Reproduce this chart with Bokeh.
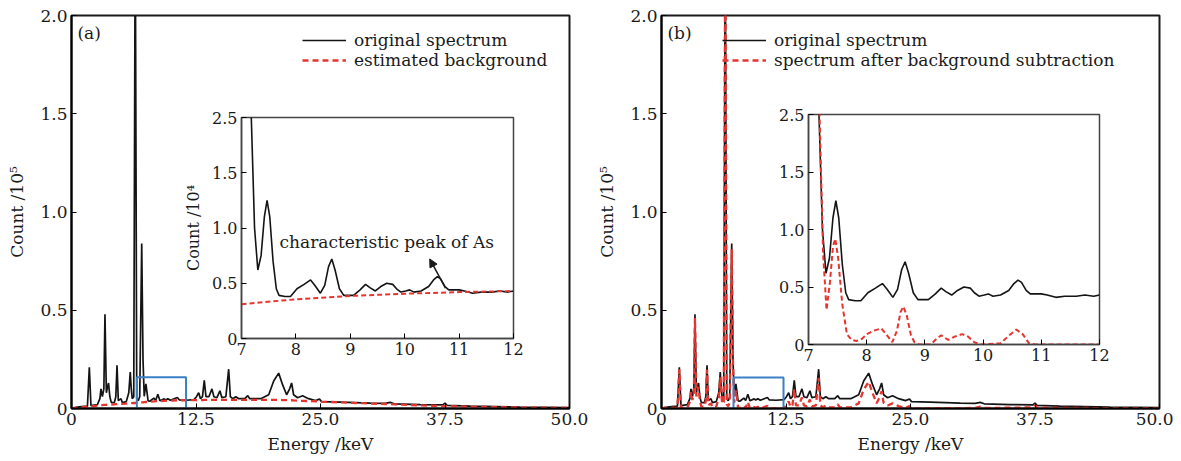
from bokeh.plotting import figure
from bokeh.models import (Legend, LegendItem, Label, Arrow, NormalHead,
                          FixedTicker)
from bokeh.layouts import row, column
from bokeh.embed import file_html
from bokeh.resources import INLINE

FONT = "DejaVu Serif"
RED = "#e8342e"
BLACK = "#141414"
BLUE = "#3a80c6"

# ---------------- main spectrum (Count / 10^5 vs Energy / keV) ----------------
energy = [0.0, 0.3, 1.0, 1.6, 1.79, 1.95, 2.6, 2.85, 2.96, 3.1, 3.25, 3.36, 3.5,
          3.62, 3.72, 3.85, 4.0, 4.3, 4.45, 4.57, 4.7, 4.97, 5.1, 5.5, 5.75, 5.9,
          6.0, 6.1, 6.25, 6.4, 6.55, 6.7, 6.85, 7.05, 7.18, 7.3, 7.47, 7.69, 7.9,
          8.27, 8.45, 8.67, 8.88, 9.3, 9.46, 9.67, 9.92, 10.63, 10.81, 11.5, 12.3,
          12.55, 12.77, 12.95, 13.15, 13.33, 13.5, 13.8, 14.1, 14.3, 14.6, 14.9,
          15.1, 15.5, 15.78, 15.95, 16.2, 16.5, 16.8, 17.4, 17.7, 17.9, 19.0, 19.8,
          20.3, 20.8, 21.2, 21.6, 21.9, 22.1, 22.3, 22.7, 23.2, 23.8, 24.5, 24.9,
          25.1, 27.0, 30.0, 31.5, 32.0, 32.4, 35.0, 37.3, 37.5, 37.7, 40.0, 45.0, 50.0]
original = [0.0, 0.005, 0.010, 0.012, 0.21, 0.015, 0.020, 0.05, 0.10, 0.06, 0.10, 0.48,
            0.08, 0.11, 0.13, 0.06, 0.03, 0.03, 0.06, 0.22, 0.04, 0.05, 0.03, 0.035,
            0.08, 0.185, 0.10, 0.05, 0.06, 2.5, 0.05, 0.04, 0.06, 0.84, 0.25, 0.062,
            0.125, 0.039, 0.038, 0.053, 0.041, 0.072, 0.039, 0.049, 0.043, 0.050,
            0.042, 0.056, 0.044, 0.042, 0.045, 0.06, 0.08, 0.05, 0.06, 0.143, 0.06,
            0.06, 0.10, 0.06, 0.055, 0.09, 0.055, 0.06, 0.20, 0.06, 0.05, 0.06, 0.05,
            0.05, 0.065, 0.05, 0.05, 0.07, 0.14, 0.18, 0.12, 0.07, 0.10, 0.13, 0.07,
            0.055, 0.065, 0.05, 0.04, 0.048, 0.035, 0.032, 0.027, 0.026, 0.031, 0.024,
            0.020, 0.018, 0.028, 0.016, 0.012, 0.007, 0.004]
background = [0.0, 0.002, 0.006, 0.009, 0.010, 0.011, 0.015, 0.016, 0.017, 0.017,
              0.018, 0.018, 0.019, 0.019, 0.020, 0.020, 0.020, 0.021, 0.022, 0.022,
              0.023, 0.024, 0.024, 0.025, 0.026, 0.026, 0.027, 0.027, 0.028, 0.028,
              0.029, 0.029, 0.030, 0.031, 0.031, 0.032, 0.033, 0.034, 0.035, 0.036,
              0.037, 0.038, 0.038, 0.039, 0.039, 0.040, 0.040, 0.042, 0.042, 0.042,
              0.043, 0.043, 0.043, 0.043, 0.043, 0.044, 0.044, 0.044, 0.044, 0.044,
              0.044, 0.044, 0.044, 0.044, 0.044, 0.044, 0.044, 0.044, 0.044, 0.044,
              0.044, 0.044, 0.044, 0.044, 0.044, 0.044, 0.043, 0.043, 0.042, 0.042,
              0.041, 0.040, 0.039, 0.038, 0.037, 0.036, 0.035, 0.031, 0.025, 0.023,
              0.022, 0.021, 0.016, 0.012, 0.012, 0.012, 0.009, 0.005, 0.003]
subtracted = [0.0, 0.003, 0.004, 0.003, 0.20, 0.004, 0.005, 0.034, 0.083, 0.043,
              0.082, 0.46, 0.061, 0.091, 0.11, 0.04, 0.01, 0.009, 0.038, 0.198,
              0.017, 0.026, 0.006, 0.01, 0.054, 0.159, 0.073, 0.023, 0.032, 2.47,
              0.021, 0.011, 0.03, 0.81, 0.22, 0.030, 0.092, 0.005, 0.003, 0.014,
              0.002, 0.034, 0.0, 0.008, 0.003, 0.009, 0.0, 0.013, 0.001, 0.0, 0.002,
              0.017, 0.037, 0.007, 0.017, 0.099, 0.016, 0.016, 0.056, 0.016, 0.011,
              0.046, 0.011, 0.016, 0.156, 0.016, 0.006, 0.016, 0.006, 0.006, 0.021,
              0.006, 0.006, 0.026, 0.096, 0.136, 0.077, 0.027, 0.058, 0.088, 0.029,
              0.015, 0.026, 0.012, 0.003, 0.012, 0.0, 0.001, 0.002, 0.003, 0.009,
              0.003, 0.004, 0.006, 0.016, 0.004, 0.003, 0.002, 0.001]

# ---------------- inset: 7-12 keV (Count / 10^4) ----------------
inset_energy = [7.15, 7.18, 7.24, 7.30, 7.36, 7.42, 7.47, 7.52, 7.58, 7.64, 7.69,
                7.80, 7.90, 8.02, 8.15, 8.27, 8.35, 8.45, 8.53, 8.60, 8.66, 8.72,
                8.80, 8.88, 9.06, 9.18, 9.28, 9.36, 9.46, 9.56, 9.67, 9.78, 9.85,
                9.93, 10.02, 10.09, 10.17, 10.30, 10.44, 10.53, 10.60, 10.66, 10.74,
                10.81, 11.00, 11.10, 11.25, 11.40, 11.60, 11.75, 11.90, 12.00]
inset_original = [3.0, 2.0, 1.0, 0.62, 0.75, 1.10, 1.25, 1.10, 0.70, 0.45, 0.39,
                  0.38, 0.38, 0.45, 0.49, 0.53, 0.48, 0.41, 0.48, 0.65, 0.72, 0.62,
                  0.45, 0.39, 0.39, 0.44, 0.49, 0.46, 0.43, 0.47, 0.50, 0.49, 0.45,
                  0.42, 0.43, 0.44, 0.42, 0.43, 0.47, 0.53, 0.56, 0.54, 0.47, 0.44,
                  0.44, 0.43, 0.41, 0.42, 0.42, 0.43, 0.42, 0.43]
inset_bg_energy = [7.0, 8.0, 9.0, 10.0, 11.0, 12.0]
inset_background = [0.31, 0.355, 0.385, 0.405, 0.42, 0.43]
inset_sub_energy = [7.15, 7.19, 7.25, 7.31, 7.37, 7.42, 7.46, 7.51, 7.58, 7.66, 7.74,
                    7.82, 7.92, 8.00, 8.12, 8.25, 8.35, 8.44, 8.52, 8.58, 8.63, 8.69,
                    8.76, 8.82, 8.90, 9.10, 9.20, 9.28, 9.40, 9.52, 9.64, 9.74, 9.85,
                    9.95, 10.30, 10.45, 10.57, 10.68, 10.79, 10.90, 12.00]
inset_subtracted = [3.0, 2.0, 0.80, 0.30, 0.55, 0.85, 0.92, 0.75, 0.35, 0.09, 0.04,
                    0.03, 0.05, 0.09, 0.12, 0.14, 0.08, 0.02, 0.12, 0.28, 0.33, 0.25,
                    0.08, 0.02, 0.0, 0.0, 0.05, 0.08, 0.04, 0.07, 0.09, 0.07, 0.02,
                    0.0, 0.01, 0.08, 0.13, 0.09, 0.01, 0.0, 0.0]

# zoom boxes drawn on the main panels [left, right, bottom, top]
zoom_box_a = [6.56, 11.5, -0.01, 0.159]
zoom_box_b = [7.23, 12.25, -0.013, 0.158]

# annotation (inset a)
note_text = "characteristic peak of As"
note_pos = (7.70, 0.87)
arrow_from = (10.75, 0.455)
arrow_to = (10.46, 0.72)

main_xticks = [0, 12.5, 25, 37.5, 50]
main_xlabels = ["0", "12.5", "25.0", "37.5", "50.0"]
main_yticks = [0, 0.5, 1, 1.5, 2]
main_ylabels = ["0", "0.5", "1.0", "1.5", "2.0"]
inset_xticks = [7, 8, 9, 10, 11, 12]
inset_xlabels = ["7", "8", "9", "10", "11", "12"]
inset_yticks = [0, 0.5, 1, 1.5, 2]
inset_ylabels = ["0", "0.5", "1.0", "1.5", "2.5"]


def style_axes(p, xt, xl, yt, yl, size="17px"):
    p.xaxis.ticker = FixedTicker(ticks=xt)
    p.yaxis.ticker = FixedTicker(ticks=yt)
    p.xaxis.major_label_overrides = dict(zip(xt, xl))
    p.yaxis.major_label_overrides = dict(zip(yt, yl))
    for ax in (p.xaxis, p.yaxis):
        ax.major_tick_in = 5
        ax.major_tick_out = 0
        ax.minor_tick_line_color = None
        ax.major_label_text_font = FONT
        ax.major_label_text_font_size = size
        ax.major_label_text_color = "#1a1a1a"
        ax.axis_label_text_font = FONT
        ax.axis_label_text_font_size = size
        ax.axis_label_text_font_style = "normal"
        ax.axis_label_text_color = "#1a1a1a"
        ax.major_label_standoff = 4
    p.grid.visible = False


def main_panel(tag, red_y, red_label, box, border_right, legend_loc):
    p = figure(width=71 + 498 + border_right, height=15 + 393 + 52,
               x_range=(0, 50), y_range=(0, 2.0),
               output_backend="svg", toolbar_location=None,
               min_border_left=71, min_border_right=border_right,
               min_border_top=15, min_border_bottom=52)
    style_axes(p, main_xticks, main_xlabels, main_yticks, main_ylabels)
    p.xaxis.axis_label = "Energy /keV"
    p.yaxis.axis_label = "Count /10\u2075"
    p.xaxis.axis_label_standoff = 6
    p.yaxis.axis_label_standoff = 10
    p.xaxis.axis_line_width = 2
    p.yaxis.axis_line_width = 2
    p.outline_line_color = "#1a1a1a"
    p.outline_line_width = 2
    p.outline_line_alpha = 1
    r1 = p.line(energy, original, line_color=BLACK, line_width=1.7)
    r2 = p.line(energy, red_y, line_color=RED, line_width=2.3, line_dash="6 4")
    p.quad(left=[box[0]], right=[box[1]], bottom=[box[2]], top=[box[3]],
           fill_alpha=0, line_color=BLUE, line_width=2)
    p.add_layout(Label(x=0.6, y=1.91, text=tag, text_font=FONT, text_font_size="17px",
                       text_baseline="middle", text_color="#1a1a1a"))
    legend = Legend(items=[LegendItem(label="original spectrum", renderers=[r1]),
                           LegendItem(label=red_label, renderers=[r2])],
                    location=legend_loc,
                    padding=0, margin=0, spacing=0, label_height=20, glyph_height=20,
                    glyph_width=44, label_standoff=8, border_line_alpha=0,
                    background_fill_alpha=0, label_text_font=FONT,
                    label_text_font_size="17px", label_text_color="#1a1a1a")
    p.add_layout(legend)
    return p


def inset_panel(fw, fh, with_label):
    p = figure(width=62 + fw + 14, height=10 + fh + 28,
               x_range=(7, 12), y_range=(0, 2.0),
               output_backend="svg", toolbar_location=None,
               min_border_left=62, min_border_right=14,
               min_border_top=10, min_border_bottom=28)
    style_axes(p, inset_xticks, inset_xlabels, inset_yticks, inset_ylabels, "16px")
    p.border_fill_alpha = 0
    p.background_fill_color = "white"
    p.outline_line_color = "#444444"
    p.outline_line_width = 1.5
    p.outline_line_alpha = 1
    p.xaxis.axis_line_color = "#444444"
    p.yaxis.axis_line_color = "#444444"
    p.xaxis.axis_line_width = 1.5
    p.yaxis.axis_line_width = 1.5
    if with_label:
        p.yaxis.axis_label = "Count /10\u2074"
        p.yaxis.axis_label_standoff = 6
    return p


pa = main_panel("(a)", background, "estimated background", zoom_box_a, 21, (231, 338))
pb = main_panel("(b)", subtracted, "spectrum after background subtraction",
                zoom_box_b, 14, (61, 338))

ia = inset_panel(272, 221, True)
ia.line(inset_energy, inset_original, line_color=BLACK, line_width=1.6)
ia.line(inset_bg_energy, inset_background, line_color=RED, line_width=2, line_dash="5 3")
ia.add_layout(Label(x=note_pos[0], y=note_pos[1], text=note_text, text_font=FONT,
                    text_font_size="17px", text_baseline="middle", text_color="#1a1a1a"))
ia.add_layout(Arrow(end=NormalHead(size=8, fill_color="#1a1a1a", line_color="#1a1a1a"),
                    x_start=arrow_from[0], y_start=arrow_from[1],
                    x_end=arrow_to[0], y_end=arrow_to[1], line_width=1.5,
                    line_color="#1a1a1a"))

ib = inset_panel(291, 230, False)
ib.line(inset_energy, inset_original, line_color=BLACK, line_width=1.6)
ib.line(inset_sub_energy, inset_subtracted, line_color=RED, line_width=2, line_dash="5 3")

ia.styles = {"position": "absolute", "left": "179px", "top": "107px"}
ib.styles = {"position": "absolute", "left": "746px", "top": "104px"}

layout = column(row(pa, pb), ia, ib, styles={"position": "relative"})

open("out.html", "w").write(file_html(layout, INLINE))
